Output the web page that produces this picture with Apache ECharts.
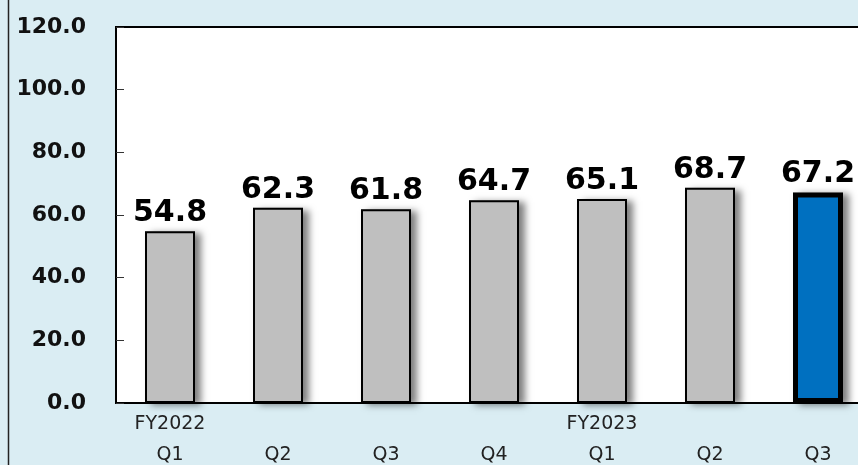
<!DOCTYPE html>
<html><head><meta charset="utf-8">
<script src="https://cdn.jsdelivr.net/npm/echarts@6/dist/echarts.min.js"></script>
<style>html,body{margin:0;padding:0;background:#DAEDF3;}#c{width:858px;height:465px;}</style>
</head><body><div id="c"></div>
<script>
const quarters = ['Q1','Q2','Q3','Q4','Q1','Q2','Q3'];
const years = ['FY2022','','','','FY2023','',''];
const values = [54.8, 62.3, 61.8, 64.7, 65.1, 68.7, 67.2];
const highlightIndex = 6;

const font = '"DejaVu Sans", Verdana, sans-serif';
const chart = echarts.init(document.getElementById('c'), null, {renderer:'canvas'});
chart.setOption({
  backgroundColor: '#DAEDF3',
  animation: false,
  graphic: [{type:'rect', left: 6, top: -10, shape:{width: 900, height: 500}, style:{fill:'none', stroke:'#222', lineWidth:1.5}, silent:true, z:-1}],
  grid: {left:116, top:27, height:376, width:756, outerBoundsMode:'none', containLabel:false, show:true, backgroundColor:'#fff', borderColor:'#000', borderWidth:2},
  xAxis: [{
    type:'category', data: quarters, position:'bottom',
    axisLine:{lineStyle:{color:'#000', width:2}}, axisTick:{show:false},
    axisLabel:{color:'#222', fontFamily:font, fontSize:19, margin:43, interval:0}
  },{
    type:'category', data: years, position:'bottom',
    axisLine:{show:false}, axisTick:{show:false},
    axisLabel:{color:'#222', fontFamily:font, fontSize:19, margin:12, interval:0}
  }],
  yAxis: {
    type:'value', min:0, max:120, interval:20,
    axisLine:{show:true, lineStyle:{color:'#000', width:2}},
    axisTick:{show:true, inside:true, length:8, lineStyle:{color:'#333'}},
    splitLine:{show:false},
    axisLabel:{color:'#111', fontFamily:font, fontWeight:'bold', fontSize:22, margin:30, formatter:v=>v.toFixed(1)}
  },
  series: [{
    type:'bar', xAxisIndex:0, barWidth:50, silent:true,
    data: values,
    itemStyle:{color:'#BFBFBF', borderWidth:0,
      shadowColor:'rgba(0,0,0,0.5)', shadowBlur:7, shadowOffsetX:6, shadowOffsetY:2},
    z:1
  },{
    type:'bar', xAxisIndex:0, barWidth:50, barGap:'-100%',
    data: values.map((v,i)=> i===highlightIndex ?
      {value:v, itemStyle:{color:'#0070C0', borderColor:'#000', borderWidth:5}} : v),
    itemStyle:{color:'#BFBFBF', borderColor:'#000', borderWidth:2},
    label:{show:true, position:'top', distance:3, color:'#000', fontFamily:font, fontWeight:'bold', fontSize:30,
      formatter:p=>p.value.toFixed(1)},
    z:2
  }]
});
</script></body></html>
